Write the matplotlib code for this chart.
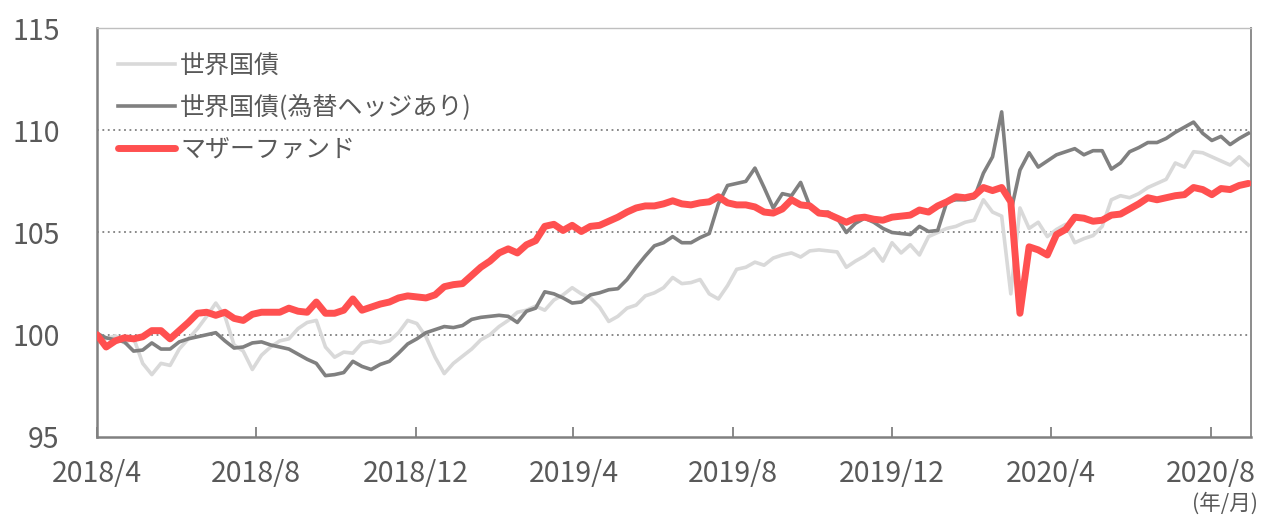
import pandas as pd
import matplotlib.pyplot as plt
import matplotlib.dates as mdates

plt.rcParams['font.family'] = ['Noto Sans CJK JP', 'DejaVu Sans']

# 週次データ (2018/4/1 起点, 基準=100)
dates = pd.date_range('2018-04-01', periods=127, freq='7D')

world_bond = [
    100.1, 99.8, 99.95, 99.6, 99.85, 98.6, 98.05, 98.6, 98.5, 99.3,
    99.8, 100.3, 100.9, 101.55, 100.9, 99.5, 99.2, 98.3, 99.0, 99.4,
    99.7, 99.8, 100.3, 100.6, 100.7, 99.4, 98.9, 99.15, 99.1, 99.6,
    99.7, 99.6, 99.7, 100.1, 100.7, 100.55, 99.9, 98.9, 98.1, 98.6,
    98.95, 99.3, 99.75, 100.0, 100.4, 100.7, 101.1, 101.2, 101.4, 101.2,
    101.7, 101.95, 102.3, 102.0, 101.8, 101.35, 100.65, 100.9, 101.3, 101.45,
    101.9, 102.05, 102.3, 102.8, 102.5, 102.55, 102.7, 102.0, 101.75, 102.4,
    103.2, 103.3, 103.55, 103.4, 103.75, 103.9, 104.0, 103.8, 104.1, 104.15,
    104.1, 104.05, 103.3, 103.6, 103.85, 104.2, 103.6, 104.5, 104.0, 104.4,
    103.9, 104.8, 105.0, 105.2, 105.3, 105.5, 105.6, 106.6, 106.0, 105.8,
    102.0, 106.2, 105.2, 105.5, 104.8, 105.15, 105.4, 104.5, 104.7, 104.85,
    105.3, 106.6, 106.8, 106.7, 106.9, 107.2, 107.4, 107.6, 108.4, 108.2,
    108.95, 108.9, 108.7, 108.5, 108.3, 108.7, 108.3,
]

world_bond_hedged = [
    100.05, 99.85, 99.75, 99.65, 99.2, 99.25, 99.6, 99.3, 99.3, 99.65,
    99.8, 99.9, 100.0, 100.1, 99.7, 99.35, 99.4, 99.6, 99.65, 99.5,
    99.4, 99.3, 99.05, 98.8, 98.6, 98.0, 98.05, 98.15, 98.7, 98.45,
    98.3, 98.55, 98.7, 99.1, 99.55, 99.8, 100.1, 100.25, 100.4, 100.35,
    100.45, 100.75, 100.85, 100.9, 100.95, 100.9, 100.6, 101.15, 101.3, 102.1,
    102.0, 101.8, 101.55, 101.6, 101.95, 102.05, 102.2, 102.25, 102.7, 103.3,
    103.85, 104.35, 104.5, 104.8, 104.5, 104.5, 104.75, 104.95, 106.4, 107.3,
    107.4, 107.5, 108.15, 107.2, 106.2, 106.9, 106.8, 107.45, 106.3, 105.95,
    106.0, 105.7, 105.0, 105.45, 105.7, 105.5, 105.2, 105.0, 104.95, 104.9,
    105.3, 105.05, 105.1, 106.5, 106.6, 106.6, 106.7, 107.9, 108.7, 110.9,
    106.0, 108.05, 108.9, 108.2, 108.5, 108.8, 108.95, 109.1, 108.8, 109.0,
    109.0, 108.1, 108.4, 108.95, 109.15, 109.4, 109.4, 109.6, 109.9, 110.15,
    110.4, 109.85, 109.5, 109.7, 109.3, 109.6, 109.85,
]

mother_fund = [
    100.0, 99.4, 99.7, 99.85, 99.8, 99.9, 100.2, 100.2, 99.8, 100.2,
    100.6, 101.05, 101.1, 100.95, 101.1, 100.8, 100.7, 101.0, 101.1, 101.1,
    101.1, 101.3, 101.15, 101.1, 101.6, 101.05, 101.05, 101.2, 101.75, 101.2,
    101.35, 101.5, 101.6, 101.8, 101.9, 101.85, 101.8, 101.95, 102.35, 102.45,
    102.5, 102.9, 103.3, 103.6, 104.0, 104.2, 104.0, 104.4, 104.6, 105.3,
    105.4, 105.1, 105.35, 105.05, 105.3, 105.35, 105.55, 105.75, 106.0, 106.2,
    106.3, 106.3, 106.4, 106.55, 106.4, 106.35, 106.45, 106.5, 106.75, 106.45,
    106.35, 106.35, 106.25, 106.0, 105.95, 106.15, 106.6, 106.35, 106.3, 105.95,
    105.9, 105.7, 105.5, 105.7, 105.75, 105.65, 105.6, 105.75, 105.8, 105.85,
    106.1, 106.0, 106.3, 106.5, 106.75, 106.7, 106.8, 107.2, 107.05, 107.2,
    106.5, 101.05, 104.3, 104.15, 103.9, 104.9, 105.15, 105.75, 105.7, 105.55,
    105.6, 105.85, 105.9, 106.15, 106.4, 106.7, 106.6, 106.7, 106.8, 106.85,
    107.2, 107.1, 106.85, 107.15, 107.1, 107.3, 107.4,
]

labels = ['世界国債', '世界国債(為替ヘッジあり)', 'マザーファンド']
tick_dates = pd.date_range('2018-04-01', '2020-08-01', freq='4MS')
tick_labels = [f'{d.year}/{d.month}' for d in tick_dates]

text_col = '#595959'

fig = plt.figure(figsize=(12.68, 5.15), dpi=100)
ax = fig.add_axes([0.0765, 0.1515, 0.9101, 0.7941])

ax.plot(dates, world_bond, color='#d9d9d9', lw=2.6, label=labels[0], zorder=2)
ax.plot(dates, world_bond_hedged, color='#808080', lw=2.6, label=labels[1], zorder=3)
ax.plot(dates, mother_fund, color='#ff5050', lw=5, label=labels[2], zorder=4,
        solid_capstyle='round')

ax.set_ylim(95, 115)
ax.set_xlim(pd.Timestamp('2018-04-01'), pd.Timestamp('2020-09-01'))
ax.set_yticks([95, 100, 105, 110, 115])
ax.set_xticks(tick_dates)
ax.set_xticklabels(tick_labels)

# 点線グリッド
for v in [100, 105, 110]:
    ax.axhline(v, color='#808080', lw=1.3, ls=(0, (1, 2)), zorder=1)

for s in ['left', 'bottom']:
    ax.spines[s].set_color('#808080')
    ax.spines[s].set_linewidth(1.8)
ax.spines['right'].set_color('#8c8c8c')
ax.spines['right'].set_linewidth(1.4)
ax.spines['top'].set_color('#bfbfbf')
ax.spines['top'].set_linewidth(1.0)

ax.tick_params(axis='x', direction='in', length=7, width=1.3, color='#808080',
               labelsize=20.5, labelcolor=text_col, pad=16)
ax.tick_params(axis='y', length=0, labelsize=20.5, labelcolor=text_col, pad=27)

ax.text(1.006, -0.135, '(年/月)', transform=ax.transAxes, ha='right', va='top',
        fontsize=15.5, color=text_col)

leg = ax.legend(loc='upper left', bbox_to_anchor=(0.018, 0.94), frameon=False,
                fontsize=18, handlelength=2.3, handletextpad=0.2,
                labelspacing=0.65, borderpad=0, borderaxespad=0)
for t in leg.get_texts():
    t.set_color(text_col)

plt.savefig('out.png', dpi=100)
